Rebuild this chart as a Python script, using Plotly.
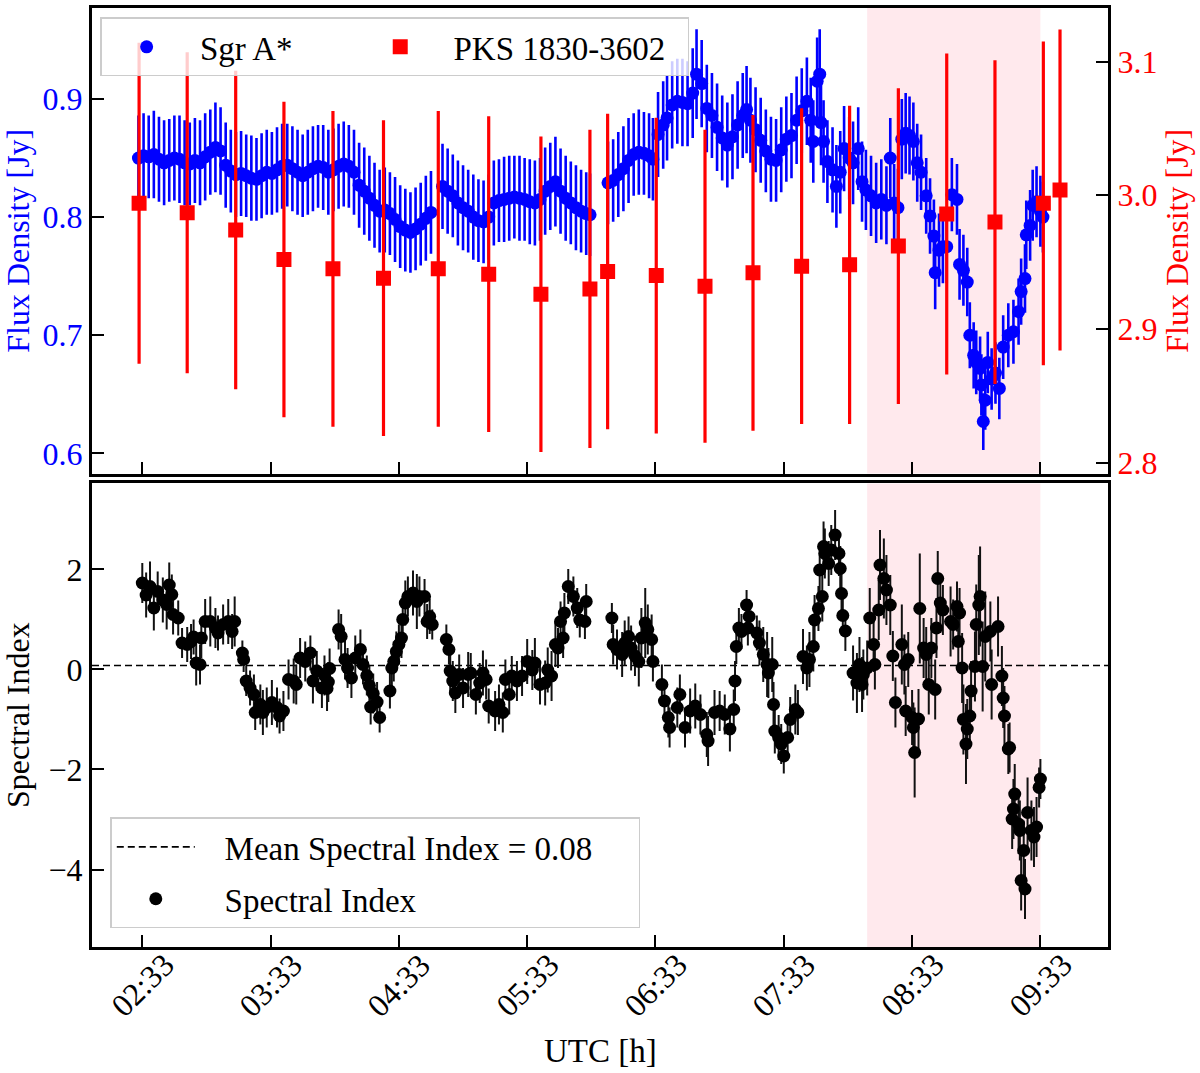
import plotly.graph_objects as go

# ---------------- data ----------------
tick_hours = [0, 1, 2, 3, 4, 5, 6, 7]
tick_labels = ["02:33", "03:33", "04:33", "05:33", "06:33", "07:33", "08:33", "09:33"]

# Sgr A* flux density (hours after 02:33, Jy, error Jy)
sgr_t = [-0.03, 0.01, 0.05, 0.09, 0.13, 0.17, 0.21, 0.25, 0.29, 0.33, 0.37, 0.41, 0.45, 0.49, 0.53, 0.57,
         0.61, 0.65, 0.69, 0.73, 0.77, 0.81, 0.85, 0.89, 0.93, 0.97, 1.01, 1.05, 1.09, 1.13, 1.17, 1.21,
         1.25, 1.29, 1.33, 1.37, 1.41, 1.45, 1.49, 1.53, 1.57, 1.61, 1.65, 1.69, 1.73, 1.77, 1.81, 1.85,
         1.89, 1.93, 1.97, 2.01, 2.05, 2.09, 2.13, 2.17, 2.21, 2.25,
         2.34, 2.38, 2.42, 2.46, 2.50, 2.54, 2.58, 2.62, 2.66, 2.70, 2.74, 2.78, 2.82, 2.86, 2.90, 2.94,
         2.98, 3.02, 3.06, 3.10, 3.14, 3.18, 3.22, 3.26, 3.30, 3.34, 3.38, 3.42, 3.46, 3.49,
         3.63, 3.67, 3.71, 3.75, 3.79, 3.83, 3.87, 3.91, 3.95, 3.98, 4.02, 4.06, 4.09, 4.13, 4.17, 4.21,
         4.25, 4.29, 4.32, 4.36, 4.40, 4.44, 4.48, 4.52, 4.56, 4.60, 4.64, 4.68, 4.71, 4.74, 4.78, 4.82,
         4.86, 4.90, 4.94, 4.98, 5.02, 5.06, 5.10, 5.14, 5.18, 5.21, 5.23, 5.26, 5.28, 5.29, 5.31, 5.34,
         5.38, 5.41, 5.44, 5.47, 5.51, 5.54, 5.58, 5.61, 5.64, 5.68, 5.72, 5.76, 5.80, 5.83, 5.86, 5.89,
         5.92, 5.95, 5.98, 6.01, 6.04, 6.07, 6.11, 6.14, 6.17, 6.18, 6.21, 6.24, 6.27, 6.31, 6.35, 6.37,
         6.40, 6.43, 6.45, 6.48, 6.50, 6.53, 6.54, 6.555, 6.57, 6.59, 6.62, 6.65, 6.68, 6.71, 6.75, 6.79,
         6.83, 6.85, 6.88, 6.89, 6.92, 6.94, 6.97, 7.00, 7.02]
sgr_flux = [0.850, 0.852, 0.851, 0.853, 0.849, 0.846, 0.848, 0.850, 0.849, 0.846, 0.845, 0.848, 0.846, 0.851, 0.855, 0.859,
            0.856, 0.844, 0.839, 0.836, 0.837, 0.835, 0.833, 0.832, 0.835, 0.838, 0.837, 0.840, 0.843, 0.844, 0.841, 0.838,
            0.835, 0.838, 0.841, 0.843, 0.842, 0.838, 0.840, 0.843, 0.845, 0.843, 0.838, 0.827, 0.822, 0.816, 0.810, 0.805,
            0.806, 0.803, 0.798, 0.792, 0.789, 0.787, 0.790, 0.794, 0.799, 0.804,
            0.826, 0.822, 0.818, 0.812, 0.808, 0.805, 0.800, 0.797, 0.796, 0.800, 0.812, 0.814, 0.815, 0.816, 0.817, 0.816,
            0.815, 0.813, 0.812, 0.815, 0.822, 0.826, 0.830, 0.822, 0.816, 0.812, 0.808, 0.805, 0.803, 0.802,
            0.829, 0.831, 0.836, 0.841, 0.848, 0.853, 0.855, 0.854, 0.852, 0.849, 0.870, 0.878, 0.884, 0.895, 0.898, 0.897,
            0.896, 0.905, 0.921, 0.913, 0.892, 0.886, 0.876, 0.867, 0.861, 0.868, 0.878, 0.886, 0.891, 0.882, 0.874, 0.865,
            0.856, 0.849, 0.848, 0.857, 0.866, 0.869, 0.882, 0.890, 0.898, 0.882, 0.864, 0.915, 0.921, 0.880, 0.864, 0.847,
            0.840, 0.826, 0.838, 0.858, 0.850, 0.846, 0.858, 0.830, 0.823, 0.818, 0.812, 0.815, 0.810, 0.850, 0.812, 0.808,
            0.866, 0.871, 0.869, 0.864, 0.846, 0.838, 0.818, 0.801, 0.784, 0.753, 0.772, 0.775, 0.775, 0.819, 0.815, 0.760,
            0.755, 0.745, 0.700, 0.683, 0.677, 0.672, 0.658, 0.627, 0.645, 0.677, 0.663, 0.668, 0.655, 0.690, 0.700, 0.703,
            0.720, 0.737, 0.748, 0.785, 0.793, 0.810, 0.813, 0.805, 0.800]
sgr_err = [0.036, 0.036, 0.035, 0.037, 0.036, 0.036, 0.035, 0.036, 0.037, 0.036, 0.035, 0.036, 0.036, 0.037, 0.036, 0.038,
           0.037, 0.036, 0.035, 0.036, 0.036, 0.035, 0.036, 0.035, 0.036, 0.036, 0.035, 0.036, 0.036, 0.035, 0.036, 0.036,
           0.035, 0.036, 0.036, 0.035, 0.036, 0.036, 0.035, 0.036, 0.036, 0.035, 0.036, 0.036, 0.037, 0.036, 0.036, 0.035,
           0.036, 0.035, 0.036, 0.035, 0.035, 0.034, 0.035, 0.035, 0.036, 0.035,
           0.036, 0.036, 0.035, 0.036, 0.036, 0.035, 0.036, 0.035, 0.035, 0.036, 0.036, 0.035, 0.036, 0.036, 0.035, 0.036,
           0.035, 0.036, 0.036, 0.035, 0.037, 0.037, 0.038, 0.036, 0.036, 0.035, 0.036, 0.035, 0.035, 0.035,
           0.035, 0.035, 0.036, 0.036, 0.036, 0.035, 0.036, 0.035, 0.036, 0.035, 0.036, 0.037, 0.036, 0.037, 0.036, 0.037,
           0.036, 0.038, 0.038, 0.037, 0.037, 0.036, 0.037, 0.036, 0.036, 0.036, 0.037, 0.036, 0.037, 0.036, 0.036, 0.036,
           0.035, 0.036, 0.035, 0.036, 0.036, 0.036, 0.037, 0.036, 0.037, 0.036, 0.035, 0.037, 0.038, 0.036, 0.035, 0.035,
           0.036, 0.035, 0.035, 0.036, 0.035, 0.035, 0.035, 0.034, 0.034, 0.034, 0.034, 0.034, 0.033, 0.034, 0.033, 0.033,
           0.034, 0.034, 0.033, 0.033, 0.033, 0.032, 0.032, 0.032, 0.031, 0.031, 0.031, 0.031, 0.031, 0.031, 0.030, 0.030,
           0.030, 0.029, 0.028, 0.028, 0.027, 0.027, 0.026, 0.024, 0.025, 0.026, 0.026, 0.026, 0.026, 0.027, 0.027, 0.027,
           0.028, 0.028, 0.029, 0.029, 0.030, 0.030, 0.030, 0.030, 0.030]

# PKS 1830-3602 calibrator flux density
pks_t = [-0.025, 0.35, 0.728, 1.104, 1.486, 1.88, 2.307, 2.70, 3.107, 3.489, 3.627,
         4.006, 4.386, 4.76, 5.139, 5.513, 5.893, 6.27, 6.646, 7.023, 7.153]
pks_flux = [2.994, 2.987, 2.974, 2.952, 2.945, 2.938, 2.945, 2.941, 2.926, 2.930, 2.943,
            2.940, 2.932, 2.942, 2.947, 2.948, 2.962, 2.986, 2.980, 2.994, 3.004]
pks_err = [0.120, 0.120, 0.119, 0.118, 0.118, 0.118, 0.118, 0.118, 0.118, 0.119, 0.118,
           0.118, 0.117, 0.118, 0.118, 0.119, 0.118, 0.120, 0.121, 0.121, 0.120]

# Spectral index
si_t = [0.00, 0.03, 0.06, 0.09, 0.12, 0.16, 0.19, 0.21, 0.23, 0.24, 0.28, 0.31, 0.35, 0.38, 0.40, 0.42,
        0.45, 0.46, 0.49, 0.53, 0.57, 0.59, 0.63, 0.67, 0.70, 0.72, 0.78, 0.79, 0.81, 0.84, 0.87, 0.88,
        0.92, 0.94, 0.97, 1.01, 1.05, 1.07, 1.10, 1.14, 1.18, 1.20, 1.23, 1.27, 1.31, 1.33, 1.36, 1.40,
        1.42, 1.44, 1.45, 1.46,
        1.53, 1.55, 1.58, 1.60, 1.63, 1.66, 1.70, 1.72, 1.75, 1.77, 1.78, 1.80, 1.83, 1.85, 1.93, 1.945,
        1.96, 1.98, 2.00, 2.02, 2.03, 2.05, 2.07, 2.11, 2.14, 2.16, 2.20, 2.22, 2.24, 2.26,
        2.37, 2.39, 2.40, 2.42, 2.44, 2.47, 2.50, 2.54, 2.56, 2.60, 2.63, 2.655, 2.68, 2.70, 2.75, 2.78,
        2.81, 2.83, 2.86, 2.88, 2.92, 2.96, 3.00, 3.04, 3.06, 3.10, 3.14, 3.16, 3.19, 3.22, 3.24, 3.26,
        3.28, 3.29, 3.32, 3.36, 3.39, 3.41, 3.45, 3.46,
        3.66, 3.67, 3.70, 3.74, 3.76, 3.79, 3.81, 3.84, 3.87, 3.89, 3.92, 3.94, 3.97, 3.98, 4.05, 4.07,
        4.10, 4.11, 4.17, 4.19, 4.23, 4.27, 4.31, 4.35, 4.40, 4.41, 4.46, 4.50, 4.54, 4.58, 4.61, 4.62,
        4.63, 4.65, 4.67, 4.71, 4.72, 4.73, 4.79, 4.81, 4.84, 4.87, 4.88, 4.91, 4.92, 4.93, 4.96, 4.98,
        5.00, 5.03, 5.05, 5.09, 5.11, 5.15, 5.18, 5.20, 5.23, 5.24, 5.27, 5.28, 5.30, 5.31, 5.32, 5.35,
        5.37, 5.40, 5.43, 5.44, 5.45, 5.46, 5.48, 5.54, 5.57, 5.59, 5.61, 5.62, 5.65, 5.67, 5.70, 5.71,
        5.74, 5.75, 5.78, 5.80, 5.83, 5.85, 5.87, 5.92, 5.94, 5.95, 5.97, 6.00, 6.01, 6.02, 6.05, 6.06,
        6.09, 6.11, 6.13, 6.15, 6.18, 6.19, 6.20, 6.22, 6.24, 6.30, 6.32, 6.35, 6.36, 6.37, 6.39, 6.40,
        6.42, 6.43, 6.45, 6.46, 6.49, 6.50, 6.52, 6.53, 6.55, 6.57, 6.61, 6.62, 6.67, 6.70, 6.71, 6.72,
        6.75, 6.76, 6.78, 6.79, 6.80, 6.83, 6.84, 6.85, 6.87, 6.88, 6.90, 6.93, 6.95, 6.97, 6.99, 7.00]
si_val = [1.73, 1.49, 1.66, 1.23, 1.56, 1.39, 1.30, 1.69, 1.50, 1.10, 1.03, 0.53, 0.50, 0.56, 0.65, 0.13,
          0.10, 0.63, 0.96, 0.96, 0.83, 0.73, 0.90, 0.96, 0.76, 0.96, 0.33, 0.20, -0.23, -0.37, -0.50, -0.86,
          -0.70, -0.86, -0.76, -0.66, -0.76, -0.93, -0.83, -0.20, -0.23, -0.30, 0.23, 0.16, 0.33, -0.23, -0.03, -0.37,
          -0.12, -0.38, -0.25, 0.02,
          0.80, 0.66, 0.20, 0.03, -0.17, 0.23, 0.40, 0.10, -0.12, -0.32, -0.75, -0.48, -0.65, -0.96, -0.43, 0.03,
          0.16, 0.36, 0.50, 0.63, 1.00, 1.33, 1.46, 1.53, 1.36, 1.46, 1.46, 0.96, 1.06, 0.90,
          0.60, 0.40, -0.03, -0.23, -0.47, -0.10, -0.37, -0.10, -0.07, -0.50, -0.27, -0.07, -0.20, -0.73, -0.83, -0.70,
          -0.86, -0.20, -0.50, -0.13, -0.23, -0.13, 0.16, -0.01, 0.13, -0.30, -0.27, -0.01, -0.13, 0.50, 0.43, 0.96,
          0.63, 1.13, 1.66, 1.46, 1.23, 0.99, 0.96, 1.36,
          1.03, 0.50, 0.40, 0.30, 0.53, 0.66, 0.43, 0.27, 0.16, 0.63, 0.93, 0.80, 0.60, 0.16, -0.30, -0.63,
          -0.96, -1.16, -0.76, -0.50, -1.16, -0.83, -0.73, -0.90, -1.30, -1.43, -0.86, -0.83, -0.90, -1.19, -0.80, -0.23,
          0.46, 0.83, 0.76, 1.29, 0.83, 1.06, 0.73, 0.53, 0.30, 0.10, -0.07, 0.10, -0.70, -1.23, -1.36, -1.49,
          -1.73, -1.36, -1.00, -0.80, -0.86, 0.26, 0.03, 0.20, 0.46, 0.99, 1.22, 1.99, 1.46, 2.46, 2.32, 2.12,
          2.39, 2.69, 2.32, 2.02, 1.52, 1.08, 0.77, -0.07, -0.27, 0.10, -0.30, -0.10, 0.03, 1.03, 0.50, 0.10,
          1.19, 2.09, 1.82, 1.59, 1.29, 0.27, -0.66, 0.50, 0.10, -0.83, 0.20, -0.96, -1.16, -1.66, -0.99, 1.22,
          0.43, 0.30, -0.30, 0.43, -0.40, 0.83, 1.82, 1.33, 1.19, 0.96, 0.90, 1.26, 0.56, 1.13, 0.03, -1.00,
          -1.49, -1.19, -0.93, -0.43, 0.06, 0.90, 1.29, 1.46, 0.06, 0.66, 0.76, -0.30, 0.86, -0.13, -0.57, -0.93,
          -1.59, -1.56, -2.99, -2.79, -2.49, -3.09, -3.22, -4.22, -3.62, -4.39, -2.86, -3.22, -3.35, -3.15, -2.36, -2.19]
si_err = [0.40, 0.45, 0.50, 0.45, 0.40, 0.45, 0.50, 0.45, 0.40, 0.40, 0.35, 0.30, 0.35, 0.35, 0.35, 0.45,
          0.40, 0.40, 0.45, 0.50, 0.40, 0.35, 0.40, 0.45, 0.35, 0.50, 0.25, 0.25, 0.30, 0.35, 0.40, 0.35,
          0.40, 0.45, 0.40, 0.45, 0.40, 0.35, 0.40, 0.40, 0.45, 0.40, 0.40, 0.40, 0.35, 0.45, 0.40, 0.40,
          0.40, 0.45, 0.40, 0.40,
          0.40, 0.45, 0.40, 0.40, 0.40, 0.45, 0.40, 0.40, 0.40, 0.40, 0.35, 0.40, 0.40, 0.30, 0.35, 0.40,
          0.40, 0.40, 0.40, 0.40, 0.45, 0.45, 0.40, 0.45, 0.55, 0.40, 0.35, 0.35, 0.35, 0.30,
          0.30, 0.30, 0.40, 0.40, 0.40, 0.40, 0.40, 0.45, 0.40, 0.40, 0.40, 0.45, 0.40, 0.35, 0.40, 0.40,
          0.40, 0.40, 0.40, 0.40, 0.40, 0.40, 0.45, 0.40, 0.50, 0.40, 0.45, 0.45, 0.50, 0.45, 0.40, 0.40,
          0.40, 0.40, 0.35, 0.40, 0.40, 0.35, 0.35, 0.35,
          0.30, 0.40, 0.40, 0.45, 0.45, 0.40, 0.45, 0.40, 0.50, 0.60, 0.70, 0.50, 0.50, 0.40, 0.40, 0.40,
          0.40, 0.40, 0.40, 0.40, 0.40, 0.45, 0.45, 0.40, 0.45, 0.50, 0.45, 0.40, 0.40, 0.45, 0.40, 0.40,
          0.35, 0.40, 0.35, 0.30, 0.35, 0.35, 0.35, 0.45, 0.55, 0.65, 0.50, 0.55, 0.45, 0.45, 0.45, 0.40,
          0.35, 0.40, 0.45, 0.50, 0.45, 0.55, 0.45, 0.55, 0.50, 0.50, 0.45, 0.50, 0.50, 0.50, 0.50, 0.45,
          0.50, 0.50, 0.45, 0.45, 0.40, 0.35, 0.40, 0.55, 0.60, 0.55, 0.55, 0.50, 0.55, 0.60, 0.55, 0.50,
          0.60, 0.70, 0.80, 0.70, 0.60, 0.50, 0.50, 0.80, 0.60, 0.50, 0.55, 0.55, 0.50, 0.90, 0.60, 1.10,
          0.60, 0.55, 0.60, 0.60, 0.60, 0.60, 0.55, 0.60, 0.50, 0.70, 0.50, 0.50, 0.45, 0.50, 0.70, 0.70,
          0.80, 0.60, 0.50, 0.60, 0.70, 0.80, 1.00, 1.00, 0.90, 0.90, 0.60, 0.70, 0.60, 0.60, 0.60, 0.60,
          0.50, 0.50, 0.60, 0.60, 0.60, 0.60, 0.60, 0.60, 0.60, 0.60, 0.70, 0.60, 0.60, 0.60, 0.40, 0.40]

mean_si = 0.08
flare_start, flare_end = 5.65, 7.0
x_range = [-0.392, 7.527]

# ---------------- figure ----------------
FONT = "Liberation Serif"
BLUE = "#0000ff"
RED = "#ff0000"
NB = "\u00a0"

fig = go.Figure()

fig.add_trace(go.Scatter(
    x=sgr_t, y=sgr_flux, mode="markers", name=NB + "Sgr A*" + NB * 7,
    marker=dict(color=BLUE, size=13, symbol="circle"),
    error_y=dict(type="data", array=sgr_err, color=BLUE, thickness=2.6, width=0),
    xaxis="x", yaxis="y", legend="legend"))

fig.add_trace(go.Scatter(
    x=pks_t, y=pks_flux, mode="markers", name=NB + "PKS 1830-3602" + NB * 2,
    marker=dict(color=RED, size=15, symbol="square"),
    error_y=dict(type="data", array=pks_err, color=RED, thickness=3.2, width=0),
    xaxis="x", yaxis="y3", legend="legend"))

fig.add_trace(go.Scatter(
    x=[x_range[0], x_range[1]], y=[mean_si, mean_si], mode="lines",
    name=NB * 3 + "Mean Spectral Index = 0.08" + NB * 5,
    line=dict(color="black", width=1.6, dash="7px,4px"),
    xaxis="x2", yaxis="y2", legend="legend2", legendgroup="a"))

fig.add_trace(go.Scatter(
    x=si_t, y=si_val, mode="markers", name=NB * 3 + "Spectral Index",
    marker=dict(color="black", size=13, symbol="circle"),
    error_y=dict(type="data", array=si_err, color="#111111", thickness=2, width=0),
    xaxis="x2", yaxis="y2", legend="legend2", legendgroup="b"))

# flare shading
for xr, yr in [("x", "y domain"), ("x2", "y2 domain")]:
    fig.add_shape(type="rect", xref=xr, yref=yr, x0=flare_start, x1=flare_end, y0=0, y1=1,
                  fillcolor="rgba(255,192,203,0.35)", line=dict(width=0), layer="below")

axis_common = dict(showline=True, linecolor="black", linewidth=3, mirror=True,
                   ticks="inside", ticklen=12, tickwidth=2, tickcolor="black",
                   showgrid=False, zeroline=False,
                   tickfont=dict(family=FONT, size=32))

fig.update_layout(
    width=1200, height=1073,
    margin=dict(l=92, r=92, t=5, b=126),
    paper_bgcolor="white", plot_bgcolor="white",
    font=dict(family=FONT, size=32, color="black"),
    xaxis=dict(domain=[0, 1], anchor="y", range=x_range, tickvals=tick_hours,
               showticklabels=False, **axis_common),
    yaxis=dict(domain=[0.50425, 1], anchor="x", range=[0.583, 0.977],
               tickvals=[0.6, 0.7, 0.8, 0.9], ticktext=["0.6", "0.7", "0.8", "0.9"],
               title=dict(text="Flux Density [Jy]", font=dict(family=FONT, size=32, color=BLUE), standoff=10),
               **{**axis_common, "tickfont": dict(family=FONT, size=32, color=BLUE)}),
    yaxis3=dict(overlaying="y", side="right", anchor="x", range=[2.792, 3.140],
                tickvals=[2.8, 2.9, 3.0, 3.1], ticktext=["2.8", "2.9", "3.0", "3.1"],
                showline=True, linecolor="black", linewidth=3,
                ticks="inside", ticklen=12, tickwidth=2, tickcolor="black",
                showgrid=False, zeroline=False,
                tickfont=dict(family=FONT, size=32, color=RED),
                title=dict(text="Flux Density [Jy]", font=dict(family=FONT, size=32, color=RED), standoff=10)),
    xaxis2=dict(domain=[0, 1], anchor="y2", range=x_range, tickvals=tick_hours,
                showticklabels=False, **axis_common),
    yaxis2=dict(domain=[0, 0.49363], anchor="x2", range=[-5.55, 3.72],
                tickvals=[-4, -2, 0, 2], ticktext=["\u22124", "\u22122", "0", "2"],
                title=dict(text="Spectral Index", font=dict(family=FONT, size=32, color="black"), standoff=10),
                **axis_common),
    legend=dict(x=0.008, y=0.99, xanchor="left", yanchor="top", orientation="h",
                bgcolor="rgba(255,255,255,0.8)", bordercolor="#cccccc", borderwidth=1.5,
                font=dict(family=FONT, size=33, color="black"),
                itemwidth=80),
    legend2=dict(x=0.018, y=0.138, xanchor="left", yanchor="top", orientation="v",
                 bgcolor="rgba(255,255,255,0.8)", bordercolor="#cccccc", borderwidth=1.5,
                 font=dict(family=FONT, size=33, color="black"),
                 itemwidth=78, tracegroupgap=6),
)

# rotated, centred x tick labels for the bottom panel
for h, lab in zip(tick_hours, tick_labels):
    fig.add_annotation(x=h, xref="x2", y=0, yref="paper", yshift=-38, text=lab,
                       textangle=-45, showarrow=False, xanchor="center", yanchor="middle",
                       font=dict(family=FONT, size=32, color="black"))

fig.add_annotation(x=0.5, xref="paper", y=0, yref="paper", yshift=-104, text="UTC [h]",
                   showarrow=False, xanchor="center", yanchor="middle",
                   font=dict(family=FONT, size=33, color="black"))

fig.write_html("out.html")
